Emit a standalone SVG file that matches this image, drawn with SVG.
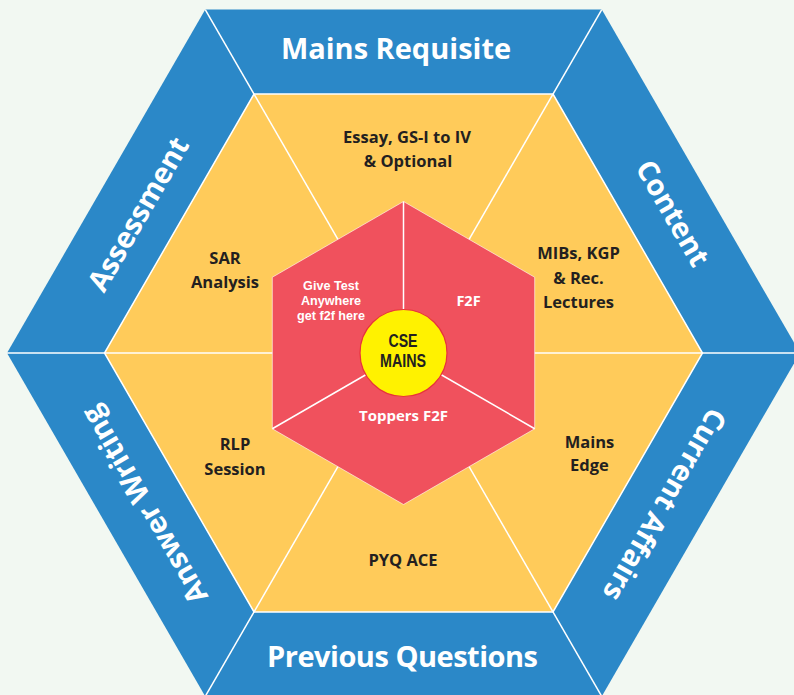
<svg xmlns="http://www.w3.org/2000/svg" width="794" height="695" viewBox="0 0 794 695">
<style>
.blue{fill:#2B88C8;}
.yel{fill:#FFCB5A;}
.red{fill:#F0515D;}
.band{font-family:"Open Sans","Noto Sans",sans-serif;font-weight:700;font-size:29px;fill:#ffffff;text-anchor:middle;}
.seg{font-family:"Open Sans","Noto Sans",sans-serif;font-weight:700;font-size:16.5px;fill:#231F20;text-anchor:middle;}
.face{font-family:"Open Sans","Noto Sans",sans-serif;font-weight:700;fill:#ffffff;text-anchor:middle;}
.face-s{font-family:"Liberation Sans",Arial,sans-serif;font-weight:700;font-size:12.6px;fill:#ffffff;text-anchor:middle;}
.core{font-family:"Liberation Sans",Arial,sans-serif;font-weight:700;font-size:19px;fill:#231F20;text-anchor:middle;}
.div{stroke:#ffffff;stroke-width:1.5;fill:none;}
</style>
<rect width="794" height="695" fill="#F2F8F2"/>
<g id="band-mains-requisite">
<polygon class="blue" points="205.25,9.6 601.75,9.6 553,94.1 254,94.1"/>
<text class="band" x="396" y="59">Mains Requisite</text>
</g>
<g id="band-content">
<polygon class="blue" points="601.75,9.6 800,353 702.5,353 553,94.1"/>
<text class="band" transform="translate(673,213) rotate(60)" x="0" y="10.4">Content</text>
</g>
<g id="band-current-affairs">
<polygon class="blue" points="800,353 601.75,696.4 553,611.9 702.5,353"/>
<text class="band" transform="translate(665,505) rotate(120)" x="0" y="10.4">Current Affairs</text>
</g>
<g id="band-previous-questions">
<polygon class="blue" points="601.75,696.4 205.25,696.4 254,611.9 553,611.9"/>
<text class="band" x="402.5" y="667" textLength="271">Previous Questions</text>
</g>
<g id="band-answer-writing">
<polygon class="blue" points="205.25,696.4 7,353 104.5,353 254,611.9"/>
<text class="band" transform="translate(144,505) rotate(-120)" x="0" y="10.4">Answer Writing</text>
</g>
<g id="band-assessment">
<polygon class="blue" points="7,353 205.25,9.6 254,94.1 104.5,353"/>
<text class="band" transform="translate(138,214) rotate(-60)" x="0" y="10.4">Assessment</text>
</g>
<g id="seg-essay">
<polygon class="yel" points="254,94.1 553,94.1 403.5,353"/>
<text class="seg" x="407" y="143">Essay, GS-I to IV</text>
<text class="seg" x="408" y="167">&amp; Optional</text>
</g>
<g id="seg-mibs">
<polygon class="yel" points="553,94.1 702.5,353 403.5,353"/>
<text class="seg" x="578.5" y="259">MIBs, KGP</text>
<text class="seg" x="578.5" y="284">&amp; Rec.</text>
<text class="seg" x="578.5" y="308">Lectures</text>
</g>
<g id="seg-mains-edge">
<polygon class="yel" points="702.5,353 553,611.9 403.5,353"/>
<text class="seg" x="589.5" y="448">Mains</text>
<text class="seg" x="589.5" y="471">Edge</text>
</g>
<g id="seg-pyq">
<polygon class="yel" points="553,611.9 254,611.9 403.5,353"/>
<text class="seg" x="403" y="566">PYQ ACE</text>
</g>
<g id="seg-rlp">
<polygon class="yel" points="254,611.9 104.5,353 403.5,353"/>
<text class="seg" x="235" y="450">RLP</text>
<text class="seg" x="235" y="475">Session</text>
</g>
<g id="seg-sar">
<polygon class="yel" points="104.5,353 254,94.1 403.5,353"/>
<text class="seg" x="225" y="264">SAR</text>
<text class="seg" x="225" y="288">Analysis</text>
</g>
<g id="connectors">
<polygon class="div" points="254,94.1 553,94.1 702.5,353 553,611.9 254,611.9 104.5,353"/>
<line class="div" x1="205.25" y1="9.6" x2="403.5" y2="353"/>
<line class="div" x1="601.75" y1="9.6" x2="403.5" y2="353"/>
<line class="div" x1="800" y1="353" x2="403.5" y2="353"/>
<line class="div" x1="601.75" y1="696.4" x2="403.5" y2="353"/>
<line class="div" x1="205.25" y1="696.4" x2="403.5" y2="353"/>
<line class="div" x1="7" y1="353" x2="403.5" y2="353"/>
</g>
<g id="face-give-test">
<polygon class="red" points="403.5,201.5 272.3,277.25 272.3,428.75 403.5,353"/>
<text class="face-s" x="331" y="290">Give Test</text>
<text class="face-s" x="331" y="305">Anywhere</text>
<text class="face-s" x="331" y="320">get f2f here</text>
</g>
<g id="face-f2f">
<polygon class="red" points="403.5,201.5 534.7,277.25 534.7,428.75 403.5,353"/>
<text class="face" font-size="14.5" x="468.5" y="306">F2F</text>
</g>
<g id="face-toppers">
<polygon class="red" points="403.5,353 272.3,428.75 403.5,504.5 534.7,428.75"/>
<text class="face" font-size="15" x="403.5" y="421">Toppers F2F</text>
</g>
<g id="face-lines">
<polygon points="403.5,201.5 534.7,277.25 534.7,428.75 403.5,504.5 272.3,428.75 272.3,277.25" fill="none" stroke="#ffffff" stroke-width="1" stroke-opacity="0.6"/>
<line class="div" x1="403.5" y1="201.5" x2="403.5" y2="353"/>
<line class="div" x1="272.3" y1="428.75" x2="403.5" y2="353"/>
<line class="div" x1="534.7" y1="428.75" x2="403.5" y2="353"/>
</g>
<g id="core">
<circle cx="403.5" cy="353" r="43.5" fill="#FFF200" stroke="#E8323C" stroke-width="1.2"/>
<text class="core" x="403" y="347" textLength="29" lengthAdjust="spacingAndGlyphs">CSE</text>
<text class="core" x="403" y="367" textLength="46" lengthAdjust="spacingAndGlyphs">MAINS</text>
</g>
</svg>
